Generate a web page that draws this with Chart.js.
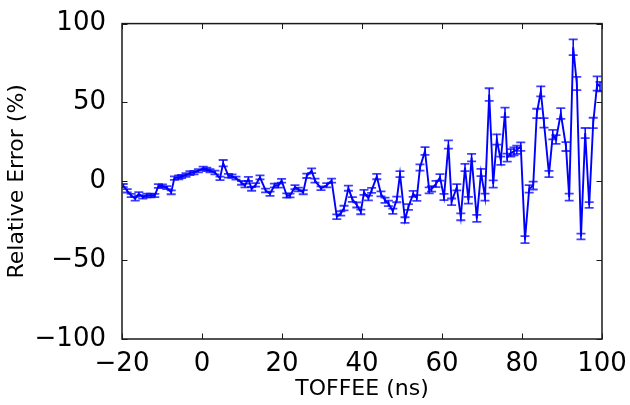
<!DOCTYPE html>
<html>
<head>
<meta charset="utf-8">
<script src="https://cdn.jsdelivr.net/npm/chart.js@4"></script>
<style>
  html, body { margin: 0; padding: 0; background: #fff; }
  canvas { display: block; }
</style>
</head>
<body>
<canvas id="chart" width="630" height="405"></canvas>
<script>
// TOFFEE time (ns) of each measured point
const times = [
  -19.7, -18.7, -17.7, -16.7, -15.8, -14.8, -13.8, -12.8, -11.8, -10.9,
  -9.9, -8.8, -7.7, -6.9, -5.8, -5.1, -4.0, -3.0, -2.0, -0.9,
  0.3, 1.2, 2.0, 3.25, 4.5, 5.3, 6.6, 7.5, 8.5, 9.9,
  10.75, 11.6, 12.4, 13.4, 14.5, 15.9, 17.0, 18.1, 19.1, 19.9,
  21.2, 22.0, 23.25, 24.1, 25.3, 26.2, 27.4, 28.25, 29.75, 31.2,
  32.4, 33.7, 34.7, 35.5, 36.6, 37.6, 38.7, 39.7, 40.5, 41.6,
  42.4, 43.7, 44.75, 45.75, 46.6, 47.7, 48.7, 49.5, 50.75, 51.6,
  52.8, 53.7, 54.5, 55.75, 56.8, 57.4, 58.5, 59.5, 60.5, 61.6,
  62.4, 63.7, 64.7, 65.75, 66.6, 67.4, 68.7, 69.75, 70.75, 71.8,
  72.8, 73.7, 74.7, 75.75, 76.3, 77.2, 78.0, 78.7, 79.7, 80.75,
  81.8, 82.8, 83.7, 84.7, 85.5, 86.75, 87.7, 88.5, 89.7, 91.0,
  91.8, 92.8, 93.7, 94.75, 95.8, 96.8, 97.8, 98.8, 99.5
];

// relative error (%)
const relError = [
  -2.7, -6, -9, -11, -8, -10, -9, -9, -9, -3,
  -3, -4, -7, 2, 2.5, 3, 4, 5.2, 5.5, 6.7,
  8.1, 7.5, 6.7, 5.6, 1.9, 11.5, 3.5, 3.3, 2, -1,
  -2.7, 1.5, -4.8, -2.3, 2.5, -5.8, -7.9, -2.7, -2.7, 0.4,
  -9, -9, -3.75, -5.2, -6.9, 3.5, 6.7, 0.4, -4.4, -2.5,
  0.4, -22.5, -20.4, -17, -4.4, -11.5, -15, -19.4, -7, -10.6,
  -5.8, 3, -8, -12, -14, -19, -11.5, 4.6, -24.6, -16.3,
  -8, -10.6, 8.75, 19.2, -5.8, -4.8, -1.7, 2.5, -10, 23.3,
  -13, -3.75, -22.5, 8.75, -12, 15, -23.5, 5.6, -10, 55,
  -1.7, 26.5, 13, 43.7, 15, 18, 19, 20, 22, -37,
  -4.8, -2.7, 43, 57, 37, 4.6, 29.6, 26.5, 43, 22,
  -10, 85, 62, -35, 30.6, -15, 37, 62, 60
];

// half height of each error bar (%)
const errBars = [
  1.0, 1.1, 1.0, 1.2, 1.1, 1.0, 1.2, 1.1, 1.0, 1.2,
  1.1, 1.0, 1.2, 1.1, 1.2, 1.0, 1.1, 1.2, 1.1, 1.0,
  1.2, 1.1, 1.0, 1.2, 1.1, 2.0, 1.2, 1.1, 1.0, 1.2,
  1.2, 1.3, 1.2, 1.1, 1.3, 1.2, 1.3, 1.2, 1.3, 1.2,
  1.3, 1.2, 1.3, 1.2, 1.3, 1.4, 1.5, 1.3, 1.2, 1.4,
  1.3, 1.5, 1.4, 1.5, 1.6, 1.5, 1.6, 1.5, 1.6, 1.5,
  1.6, 1.7, 1.6, 1.7, 1.8, 1.7, 1.8, 1.9, 1.8, 1.8,
  1.9, 1.8, 2.0, 2.5, 1.9, 1.8, 2.0, 2.1, 2.0, 2.6,
  2.1, 2.0, 2.2, 2.3, 2.1, 2.4, 2.2, 2.3, 2.2, 4.0,
  2.3, 3.2, 2.6, 3.0, 2.5, 2.4, 2.5, 2.6, 2.7, 2.2,
  2.4, 2.5, 3.0, 3.2, 3.0, 2.0, 3.0, 2.8, 3.4, 2.8,
  2.2, 5.0, 4.2, 1.8, 3.2, 1.8, 3.3, 4.5, 3.0
];

const xTicks = [-20, 0, 20, 40, 60, 80, 100];
const yTicks = [-100, -50, 0, 50, 100];

const FONT = "'DejaVu Sans', sans-serif";
const BLUE = '#0000ff';

const fmt = v => (v < 0 ? '\u2212' + Math.abs(v) : String(v));

// error bars with caps, placed through the chart scales
const errorBarPlugin = {
  id: 'errorBars',
  afterDatasetsDraw(chart) {
    const { ctx, chartArea } = chart;
    const xs = chart.scales.x, ys = chart.scales.y;
    ctx.save();
    ctx.beginPath();
    ctx.rect(chartArea.left, chartArea.top, chartArea.right - chartArea.left, chartArea.bottom - chartArea.top);
    ctx.clip();
    ctx.strokeStyle = BLUE;
    times.forEach((t, i) => {
      const px = xs.getPixelForValue(t);
      const yHi = ys.getPixelForValue(relError[i] + errBars[i]);
      const yLo = ys.getPixelForValue(relError[i] - errBars[i]);
      ctx.globalAlpha = 1;
      ctx.lineWidth = 1.5;
      ctx.beginPath();
      ctx.moveTo(px, yHi);
      ctx.lineTo(px, yLo);
      ctx.stroke();
      ctx.globalAlpha = 0.75;
      ctx.lineWidth = 1.8;
      ctx.beginPath();
      ctx.moveTo(px - 4.5, yHi); ctx.lineTo(px + 4.5, yHi);
      ctx.moveTo(px - 4.5, yLo); ctx.lineTo(px + 4.5, yLo);
      ctx.stroke();
    });
    ctx.restore();
  }
};

// matplotlib style box with inward ticks on all four sides
const framePlugin = {
  id: 'frame',
  afterDraw(chart) {
    const { ctx, chartArea } = chart;
    const { left, right, top, bottom } = chartArea;
    const xs = chart.scales.x, ys = chart.scales.y;
    const len = 5.5;
    ctx.save();
    ctx.strokeStyle = '#1a1a1a';
    ctx.lineWidth = 1;
    xTicks.forEach(v => {
      const px = Math.round(xs.getPixelForValue(v)) + 0.5;
      ctx.beginPath();
      ctx.moveTo(px, bottom); ctx.lineTo(px, bottom - len);
      ctx.moveTo(px, top); ctx.lineTo(px, top + len);
      ctx.stroke();
    });
    yTicks.forEach(v => {
      const py = Math.round(ys.getPixelForValue(v)) + 0.5;
      ctx.beginPath();
      ctx.moveTo(left, py); ctx.lineTo(left + len, py);
      ctx.moveTo(right, py); ctx.lineTo(right - len, py);
      ctx.stroke();
    });
    ctx.lineWidth = 1.5;
    ctx.strokeRect(left, top, right - left, bottom - top);
    ctx.restore();
  }
};

const points = times.map((t, i) => ({ x: t, y: relError[i] }));

new Chart(document.getElementById('chart').getContext('2d'), {
  type: 'line',
  data: {
    datasets: [{
      data: points,
      borderColor: BLUE,
      borderWidth: 1.9,
      pointRadius: 0,
      tension: 0,
      fill: false
    }]
  },
  options: {
    responsive: false,
    animation: false,
    devicePixelRatio: 1,
    layout: { padding: { left: 0, right: 28, top: 19, bottom: 0 } },
    plugins: { legend: { display: false }, tooltip: { enabled: false } },
    scales: {
      x: {
        type: 'linear',
        min: -20, max: 100,
        afterBuildTicks: s => { s.ticks = xTicks.map(v => ({ value: v })); },
        afterFit: s => { s.height = 66; },
        grid: { display: false },
        border: { display: false },
        ticks: {
          color: '#000', padding: 2, maxRotation: 0,
          font: { family: FONT, size: 26 },
          callback: v => fmt(v)
        },
        title: {
          display: true, text: 'TOFFEE (ns)', color: '#000',
          font: { family: FONT, size: 22 },
          padding: { top: 0, bottom: 3 }
        }
      },
      y: {
        min: -100, max: 100,
        afterBuildTicks: s => { s.ticks = yTicks.map(v => ({ value: v })); },
        afterFit: s => { s.width = 122; },
        grid: { display: false },
        border: { display: false },
        ticks: {
          color: '#000', padding: 8,
          font: { family: FONT, size: 26 },
          callback: v => fmt(v)
        },
        title: {
          display: true, text: 'Relative Error (%)', color: '#000',
          font: { family: FONT, size: 22 },
          padding: { top: 4, bottom: 0 }
        }
      }
    }
  },
  plugins: [errorBarPlugin, framePlugin]
});
</script>
</body>
</html>
